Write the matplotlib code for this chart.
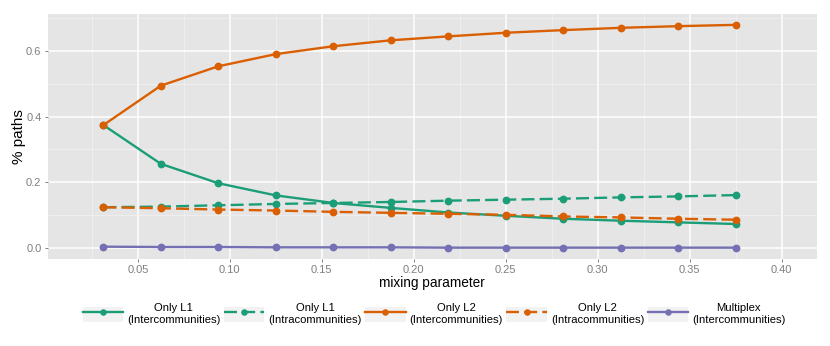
import matplotlib
matplotlib.use("Agg")
import matplotlib.pyplot as plt
from matplotlib.legend_handler import HandlerLine2D
from matplotlib.patches import Rectangle
from matplotlib.ticker import MultipleLocator, FormatStrFormatter

plt.rcParams['font.family'] = ['Liberation Sans', 'DejaVu Sans']

# mixing parameter values (k/32)
mix = [0.03125, 0.0625, 0.09375, 0.125, 0.15625, 0.1875,
       0.21875, 0.25, 0.28125, 0.3125, 0.34375, 0.375]

# fraction of paths
l1_inter = [0.374, 0.256, 0.197, 0.160, 0.137, 0.122, 0.108, 0.098, 0.089, 0.083, 0.078, 0.073]
l1_intra = [0.124, 0.126, 0.130, 0.134, 0.137, 0.140, 0.144, 0.147, 0.150, 0.154, 0.157, 0.161]
l2_inter = [0.374, 0.494, 0.553, 0.590, 0.614, 0.632, 0.644, 0.655, 0.663, 0.670, 0.675, 0.679]
l2_intra = [0.124, 0.121, 0.117, 0.114, 0.110, 0.107, 0.104, 0.101, 0.096, 0.093, 0.089, 0.086]
multiplex = [0.004, 0.003, 0.003, 0.002, 0.002, 0.002, 0.001, 0.001, 0.001, 0.001, 0.001, 0.001]

labels = ["Only L1\n(Intercommunities)", "Only L1\n(Intracommunities)",
          "Only L2\n(Intercommunities)", "Only L2\n(Intracommunities)",
          "Multiplex\n(Intercommunities)"]

green, orange, purple = "#1B9E77", "#D95F02", "#7570B3"
dash = (0, (5.5, 2.2))


class KeyHandler(HandlerLine2D):
    # ggplot-like grey box behind each legend key
    def create_artists(self, legend, orig_handle, xdescent, ydescent,
                       width, height, fontsize, trans):
        arts = super().create_artists(legend, orig_handle, xdescent, ydescent,
                                      width, height, fontsize, trans)
        rect = Rectangle((-xdescent, -ydescent), width, height,
                         facecolor="#F2F2F2", edgecolor="none", transform=trans)
        return [rect] + list(arts)


fig = plt.figure(figsize=(8.3, 3.46), dpi=100)
ax = fig.add_axes([0.0575, 0.2523, 0.9265, 0.7072])
ax.set_facecolor("#E5E5E5")

series = [(l1_inter, green, "-"), (l1_intra, green, dash),
          (l2_inter, orange, "-"), (l2_intra, orange, dash),
          (multiplex, purple, "-")]
for (vals, col, ls), lab in zip(series, labels):
    ax.plot(mix, vals, color=col, linestyle=ls, linewidth=1.7,
            marker="o", markersize=4.6, label=lab, zorder=3)

ax.set_xlim(0.001, 0.419)
ax.set_ylim(-0.0326, 0.712)
ax.xaxis.set_major_locator(MultipleLocator(0.05))
ax.xaxis.set_minor_locator(MultipleLocator(0.025))
ax.yaxis.set_major_locator(MultipleLocator(0.2))
ax.yaxis.set_minor_locator(MultipleLocator(0.1))
ax.xaxis.set_major_formatter(FormatStrFormatter("%.2f"))
ax.yaxis.set_major_formatter(FormatStrFormatter("%.1f"))
ax.set_xticks([0.05, 0.10, 0.15, 0.20, 0.25, 0.30, 0.35, 0.40])

ax.grid(which="major", color="white", linewidth=1.1)
ax.grid(which="minor", color="#F2F2F2", linewidth=0.5)
ax.set_axisbelow(True)
for s in ax.spines.values():
    s.set_visible(False)
ax.tick_params(which="major", length=2.5, width=0.7, color="#7F7F7F",
               labelcolor="#7F7F7F", labelsize=8, pad=2)
ax.tick_params(which="minor", length=0)

ax.set_xlabel("mixing parameter", fontsize=9.8, labelpad=1)
ax.set_ylabel("% paths", fontsize=11, labelpad=0)

leg = fig.legend(loc="center", bbox_to_anchor=(0.523, 0.0925), ncol=5,
                 frameon=False, fontsize=8.1, handlelength=3.6,
                 handleheight=1.7, handletextpad=0.35, columnspacing=0.3,
                 numpoints=1, markerscale=0.8,
                 handler_map={plt.Line2D: KeyHandler()})
for t in leg.get_texts():
    t.set_multialignment("center")

fig.savefig("out.png", dpi=100)
